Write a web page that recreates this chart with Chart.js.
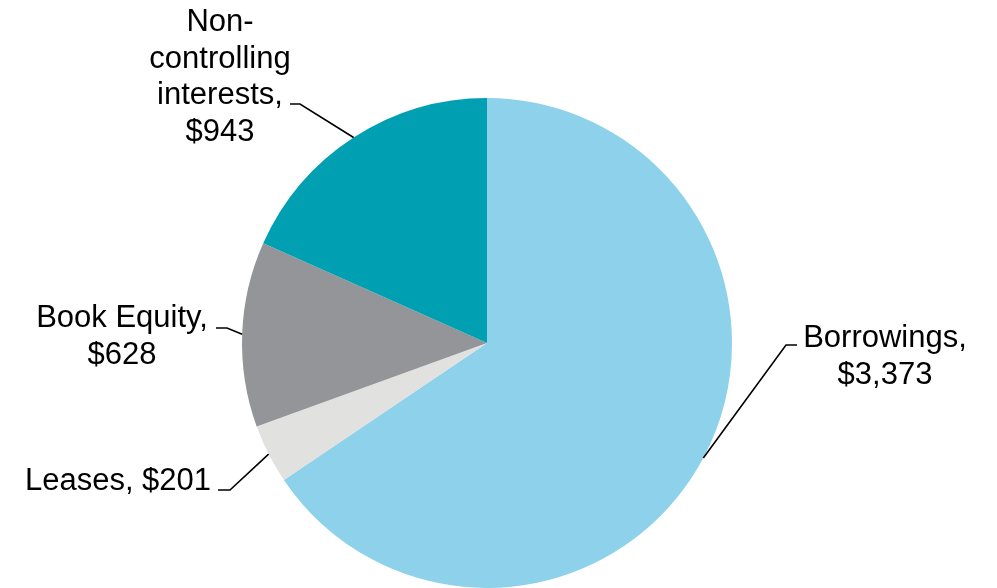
<!DOCTYPE html>
<html>
<head>
<meta charset="utf-8">
<script src="https://cdn.jsdelivr.net/npm/chart.js@4"></script>
<style>
  html, body { margin: 0; padding: 0; background: #fff; }
  #wrap { width: 997px; height: 588px; }
</style>
</head>
<body>
<div id="wrap"><canvas id="pieChart" width="997" height="588"></canvas></div>
<script>
// Slice data (in $ millions), clockwise from 12 o'clock
const categories = ["Borrowings", "Leases", "Book Equity", "Non-controlling interests"];
const values = [3373, 201, 628, 943];
const sliceColors = ["#8ED1EA", "#E1E1DF", "#939598", "#009FB1"];

// Label text lines for each slice
const labelLines = [
  ["Borrowings,", "$3,373"],
  ["Leases, $201"],
  ["Book Equity,", "$628"],
  ["Non-", "controlling", "interests,", "$943"]
];

// Where each label sits (layout only): elbow of leader, end of leader, text centre + first baseline
const labelLayout = [
  { elbow: [786, 345], end: [797, 345], text: [885, 347] },
  { elbow: [230, 490], end: [218, 490], text: [118, 490] },
  { elbow: [227, 328], end: [216, 328], text: [122, 327] },
  { elbow: [300, 104], end: [290, 104], text: [220, 31] }
];

// Plugin drawing leader lines + labels from each arc's mid-angle
const leaderLabels = {
  id: "leaderLabels",
  afterDatasetsDraw(chart) {
    const ctx = chart.ctx;
    const meta = chart.getDatasetMeta(0);
    ctx.save();
    ctx.strokeStyle = "#000";
    ctx.lineWidth = 1.6;
    ctx.fillStyle = "#000";
    ctx.font = "31px 'Liberation Sans', Arial, sans-serif";
    ctx.textAlign = "center";
    ctx.textBaseline = "alphabetic";
    meta.data.forEach((arc, i) => {
      const p = arc.getProps(["x", "y", "startAngle", "endAngle", "outerRadius"], true);
      const mid = (p.startAngle + p.endAngle) / 2;
      const ax = p.x + Math.cos(mid) * p.outerRadius;
      const ay = p.y + Math.sin(mid) * p.outerRadius;
      const lay = labelLayout[i];
      ctx.beginPath();
      ctx.moveTo(ax, ay);
      ctx.lineTo(lay.elbow[0], lay.elbow[1]);
      ctx.lineTo(lay.end[0], lay.end[1]);
      ctx.stroke();
      labelLines[i].forEach((line, j) => {
        ctx.fillText(line, lay.text[0], lay.text[1] + j * 36.5);
      });
    });
    ctx.restore();
  }
};

new Chart(document.getElementById("pieChart").getContext("2d"), {
  type: "pie",
  data: {
    labels: categories,
    datasets: [{
      data: values,
      backgroundColor: sliceColors,
      borderWidth: 0
    }]
  },
  options: {
    responsive: false,
    animation: false,
    layout: { padding: { left: 242, right: 265, top: 98, bottom: 0 } },
    plugins: {
      legend: { display: false },
      tooltip: { enabled: false }
    }
  },
  plugins: [leaderLabels]
});
</script>
</body>
</html>
